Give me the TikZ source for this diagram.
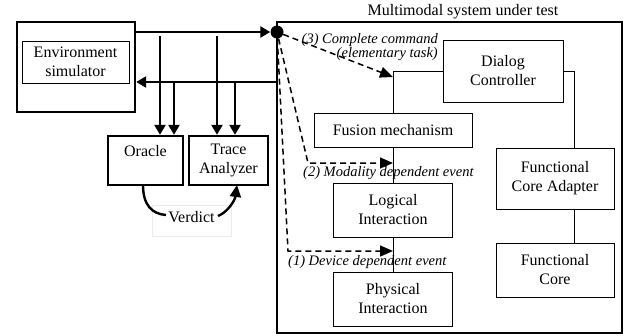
\documentclass[tikz,border=0pt]{standalone}
\usepackage{fontspec}
\setmainfont{Liberation Serif}
\usetikzlibrary{arrows.meta,calc}
\begin{document}
\begin{tikzpicture}[x=1pt,y=-1pt,
  every node/.style={font=\fontsize{16}{19}\selectfont},
  thickbox/.style={draw, line width=2.4pt, rectangle, inner sep=0pt, align=center},
  thinbox/.style={draw, line width=0.9pt, rectangle, inner sep=0pt, align=center},
  thickarr/.style={line width=2.4pt, -{Triangle[length=10pt,width=11pt]}},
  thinline/.style={line width=0.9pt},
  dasharr/.style={line width=1.5pt, dash pattern=on 6pt off 4pt, -{Triangle[length=13pt,width=11pt]}},
  lab/.style={font=\fontsize{14.5}{14}\selectfont\itshape, inner sep=0pt},
]
\useasboundingbox (0,0) rectangle (624,335);

% left side
\node[thickbox, minimum width=118pt, minimum height=90pt] (env) at (76,67) {};
\node[thinbox, minimum width=107pt, minimum height=42pt] (envin) at (75.5,62) {Environment\\simulator};
\node[thickbox, minimum width=75pt, minimum height=49pt] (oracle) at (145.5,160.5) {Oracle\\\mbox{}};
\node[thickbox, minimum width=79pt, minimum height=49pt] (trace) at (228.5,160.5) {Trace\\Analyzer};

% system under test
\node[thickbox, minimum width=345pt, minimum height=311pt] (sut) at (449.5,177.5) {};
\node (title) at (463,12) {Multimodal system under test};
\node[thinbox, minimum width=120pt, minimum height=62pt] (dialog) at (503,71) {Dialog\\Controller};
\node[thinbox, minimum width=158pt, minimum height=34pt] (fusion) at (393,130) {Fusion mechanism};
\node[thinbox, minimum width=119pt, minimum height=54pt] (logical) at (393,210) {Logical\\Interaction};
\node[thinbox, minimum width=119pt, minimum height=54pt] (physical) at (393,299) {Physical\\Interaction};
\node[thinbox, minimum width=118pt, minimum height=61pt] (fca) at (555,178.5) {Functional\\Core Adapter};
\node[thinbox, minimum width=118pt, minimum height=54pt] (fc) at (555,270) {Functional\\Core};

% internal connectors
\coordinate (c3) at (fusion.north |- dialog.west);
\draw[thinline] (fusion.north) -- (c3) -- (dialog.west);
\coordinate (rx) at (574,0);
\draw[thinline] (dialog.east) -| (rx |- fca.north);
\draw[thinline] (rx |- fca.south) -- (rx |- fc.north);
\draw[thinline] (fusion.south) -- (logical.north);
\draw[thinline] (logical.south) -- (physical.north);

% dot and thick arrows
\node[circle, fill, inner sep=0pt, minimum size=13pt] (dot) at (277,32) {};
\draw[thickarr] (env.east |- dot) -- (dot.west);
\coordinate (yb) at (0,82);
\draw[thickarr] (sut.west |- yb) -- (env.east |- yb);
\coordinate (v1) at (160,36);
\coordinate (v2) at (174,82);
\coordinate (v3) at (217,36);
\coordinate (v4) at (235,82);
\draw[thickarr] (v1) -- (v1 |- oracle.north);
\draw[thickarr] (v2) -- (v2 |- oracle.north);
\draw[thickarr] (v3) -- (v3 |- trace.north);
\draw[thickarr] (v4) -- (v4 |- trace.north);

% verdict
\node[draw=black!8, line width=0.5pt, minimum width=79pt, minimum height=31pt, inner sep=0pt] (vbox) at (191.5,220.5) {};
\node (verdict) at (191.5,217) {Verdict};
\coordinate (o1) at (143,185);
\coordinate (vl) at (166,215);
\coordinate (vr) at (218,216);
\coordinate (t1) at (237,185);
\draw[line width=2.4pt] (o1) .. controls (143,205) and (152,214) .. (vl);
\draw[line width=2.4pt, -{Triangle[length=12pt,width=11pt]}] (vr) .. controls (228,212) and (235,200) .. (t1);

% dashed arrows
\coordinate (a3) at (393,77);
\draw[dasharr] (dot) -- (a3);
\coordinate (m2) at (308,163);
\coordinate (a2) at (fusion.south |- m2);
\draw[dasharr] (dot) -- (m2) -- (a2);
\coordinate (m1) at (288,251);
\coordinate (a1) at (physical.north |- m1);
\draw[dasharr] (dot) -- (m1) -- (a1);

% labels
\node[lab, anchor=east, align=right] (l3) at (438,47) {(3) Complete command\\(elementary task)};
\node[lab, anchor=west] (l2) at (303,173) {(2) Modality dependent event};
\node[lab, anchor=west] (l1) at (288,262) {(1) Device dependent event};
\end{tikzpicture}
\end{document}
